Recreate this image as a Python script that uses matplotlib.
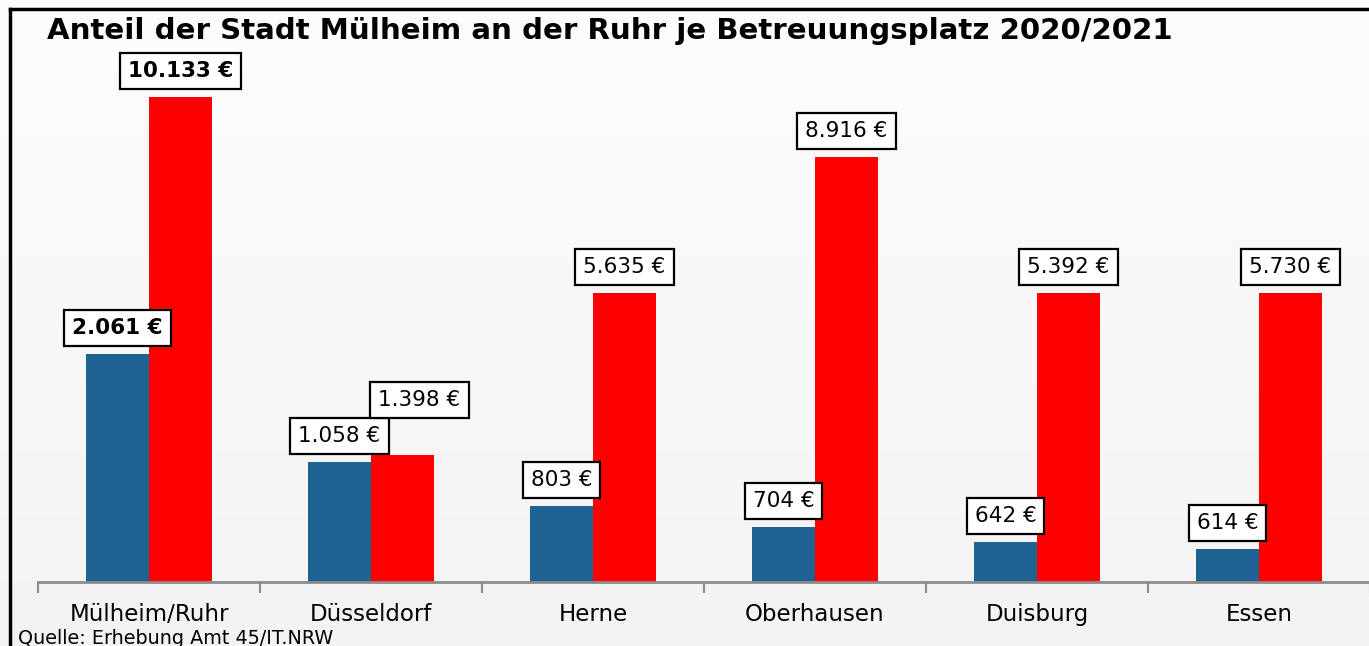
import numpy as np
import matplotlib
matplotlib.use("Agg")
import matplotlib.pyplot as plt
from matplotlib.lines import Line2D
from matplotlib.colors import LinearSegmentedColormap

# ---- data ----
cities = ["Mülheim/Ruhr", "Düsseldorf", "Herne", "Oberhausen", "Duisburg", "Essen"]
values_blue = [2061, 1058, 803, 704, 642, 614]          # label values (€)
values_red = [10133, 1398, 5635, 8916, 5392, 5730]      # label values (€)
# bar heights as drawn in the reference (not proportional to the labels), in € axis units
shown_blue = [4764, 2507, 1588, 1149, 836, 689]
shown_red = [10133, 2653, 6038, 8880, 6038, 6038]
title = "Anteil der Stadt Mülheim an der Ruhr je Betreuungsplatz 2020/2021"
source = "Quelle: Erhebung Amt 45/IT.NRW"

def fmt(v):
    return f"{v:,}".replace(",", ".") + " €"

W, H = 1369, 646
fig = plt.figure(figsize=(W / 100, H / 100), dpi=100)

# background gradient
bg = fig.add_axes([0, 0, 1, 1], zorder=-10)
grad = np.linspace(0, 1, 256).reshape(-1, 1)
cm = LinearSegmentedColormap.from_list("bg", ["#fdfdfd", "#f3f3f3"])
bg.imshow(grad, aspect="auto", cmap=cm, extent=[0, 1, 0, 1], origin="upper")
bg.set_axis_off()

# border lines (left and top)
fig.add_artist(Line2D([10 / W, 10 / W], [0, 1 - 9 / H], color="black", lw=2.5, transform=fig.transFigure))
fig.add_artist(Line2D([10 / W, 1], [1 - 9 / H, 1 - 9 / H], color="black", lw=2.5, transform=fig.transFigure))

ax_l, ax_r = 38 / W, 1370 / W
ax_b = (H - 582) / H
ax_t = (H - 40) / H
ax = fig.add_axes([ax_l, ax_b, ax_r - ax_l, ax_t - ax_b])
ax.set_facecolor("none")
per_px = 10133 / 485
ax.set_ylim(0, 542 * per_px)
ax.set_xlim(-0.5, 5.5)

x = np.arange(len(cities))
bw = 63 / 222
blue = "#1f6294"
red = "#ff0000"
ax.bar(x - bw / 2, shown_blue, width=bw, color=blue, edgecolor="none")
ax.bar(x + bw / 2, shown_red, width=bw, color=red, edgecolor="none")

for s in ["left", "right", "top"]:
    ax.spines[s].set_visible(False)
ax.spines["bottom"].set_color("#8c8c8c")
ax.spines["bottom"].set_linewidth(2)
ax.set_yticks([])
ax.set_xticks(x)
ax.set_xticklabels(cities, fontsize=16.5, color="black")
ax.tick_params(axis="x", which="major", length=0, pad=15)
ax.set_xticks(np.arange(-0.5, 6.0, 1.0), minor=True)
ax.tick_params(axis="x", which="minor", length=8, width=1.5, color="#8c8c8c")

nudges = {("red", 1): (17, 29)}

def label(xc, h, v, series, i):
    dx, dy = nudges.get((series, i), (0, 0))
    bold = (i == 0)
    ax.annotate(fmt(v), xy=(xc, h), xytext=(dx, 16 + dy), textcoords="offset pixels",
                ha="center", va="bottom", fontsize=15.5,
                fontweight="bold" if bold else "normal",
                bbox=dict(boxstyle="square,pad=0.37", fc="white", ec="black", lw=1.6),
                zorder=5)

for i in range(len(cities)):
    label(x[i] - bw / 2, shown_blue[i], values_blue[i], "blue", i)
    label(x[i] + bw / 2, shown_red[i], values_red[i], "red", i)

fig.text(47 / W, 1 - 31 / H, title, fontsize=21.1, fontweight="bold", ha="left", va="center")
fig.text(18 / W, 1 - 629 / H, source, fontsize=13.8, ha="left", va="top")

fig.savefig("out.png", dpi=100)
